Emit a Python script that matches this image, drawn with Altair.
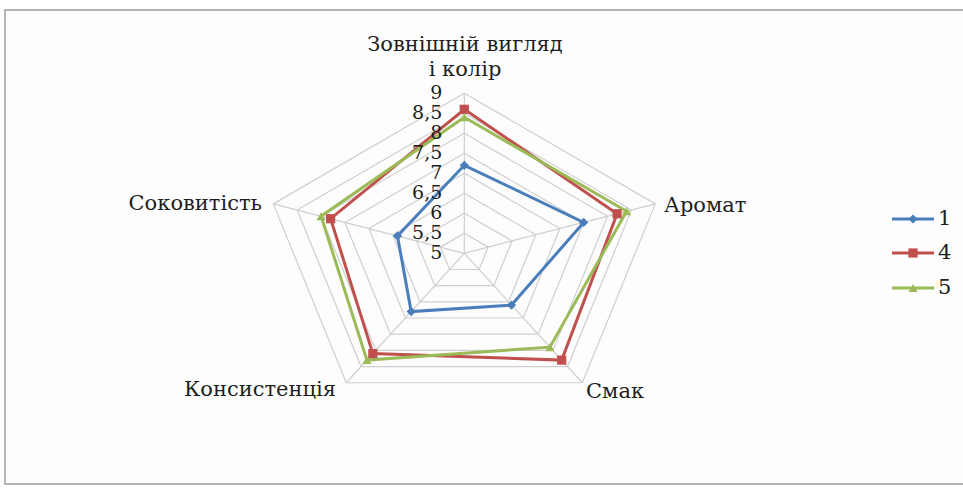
import math
import pandas as pd
import altair as alt

# Sensory scores (scale 5..9) for three samples
criteria = ["Зовнішній вигляд\nі колір", "Аромат", "Смак", "Консистенція", "Соковитість"]
series_names = ["1", "4", "5"]
scores_1 = [7.2, 7.5, 6.6, 6.8, 6.4]
scores_4 = [8.6, 8.2, 8.3, 8.1, 7.8]
scores_5 = [8.4, 8.4, 7.9, 8.3, 8.0]
grid_levels = [5.5, 6.0, 6.5, 7.0, 7.5, 8.0, 8.5, 9.0]
tick_values = [5.0, 5.5, 6.0, 6.5, 7.0, 7.5, 8.0, 8.5, 9.0]
tick_labels = ["5", "5,5", "6", "6,5", "7", "7,5", "8", "8,5", "9"]

colors = ["#4a7ebb", "#c0504d", "#9bbb59"]
shapes = ["diamond", "square", "triangle-up"]

R_MIN = 5.0
W, H = 963, 491
KX, KY = 50.2, 40.0          # pixels per score unit, horizontal / vertical
CX, CY = 464.3, 253.3        # centre of the radar in pixels
XMIN, XMAX = -CX / KX, (W - CX) / KX
YMAX, YMIN = CY / KY, (CY - H) / KY


def px_x(p):
    return XMIN + p / KX


def px_y(p):
    return YMAX - p / KY


n = len(criteria)
angles = [2 * math.pi * i / n for i in range(n)]


def polar(value, i):
    r = value - R_MIN
    return r * math.sin(angles[i]), r * math.cos(angles[i])


# grid pentagons
grid_rows = []
for lv in grid_levels:
    for k in range(n + 1):
        x, y = polar(lv, k % n)
        grid_rows.append({"level": lv, "order": k, "x": x, "y": y})
grid_df = pd.DataFrame(grid_rows)

# spokes
spoke_rows = []
for i in range(n):
    x2, y2 = polar(max(grid_levels), i)
    spoke_rows.append({"x": 0.0, "y": 0.0, "x2": x2, "y2": y2})
spoke_df = pd.DataFrame(spoke_rows)

# series polygons
series_rows = []
for name, vals in zip(series_names, [scores_1, scores_4, scores_5]):
    for k in range(n + 1):
        i = k % n
        x, y = polar(vals[i], i)
        series_rows.append({"series": name, "order": k, "crit": criteria[i],
                            "value": vals[i], "x": x, "y": y})
series_df = pd.DataFrame(series_rows)
points_df = series_df[series_df["order"] < n]

xs = alt.Scale(domain=[XMIN, XMAX], nice=False, zero=False)
ys = alt.Scale(domain=[YMIN, YMAX], nice=False, zero=False)
X = alt.X("x:Q", scale=xs, axis=None)
Y = alt.Y("y:Q", scale=ys, axis=None)
col = alt.Color("series:N", scale=alt.Scale(domain=series_names, range=colors), legend=None)
shp = alt.Shape("series:N", scale=alt.Scale(domain=series_names, range=shapes), legend=None)

FONT = "DejaVu Serif"
FS = 21
TXT = "#1e1e1e"

frame = alt.Chart(pd.DataFrame({"a": [0]})).mark_rect(
    fill="#fdfdfd", stroke="#9c9c9c", strokeWidth=1.5
).encode(x=alt.value(5), x2=alt.value(975), y=alt.value(10), y2=alt.value(484))

grid = alt.Chart(grid_df).mark_line(color="#cfcfcf", strokeWidth=1.2).encode(
    x=X, y=Y, detail="level:N", order="order:Q"
)
spokes = alt.Chart(spoke_df).mark_rule(color="#cfcfcf", strokeWidth=1.2).encode(
    x=X, y=Y, x2="x2:Q", y2="y2:Q"
)

lines = alt.Chart(series_df).mark_line(strokeWidth=3).encode(
    x=X, y=Y, color=col, detail="series:N", order="order:Q"
)
points = alt.Chart(points_df).mark_point(filled=True, opacity=1, size=85).encode(
    x=X, y=Y, color=col, shape=shp
)

# value labels along the vertical spoke
tick_df = pd.DataFrame({"x": [px_x(CX - 22)] * len(tick_values),
                        "y": [v - R_MIN for v in tick_values],
                        "t": tick_labels})
ticks = alt.Chart(tick_df).mark_text(
    font=FONT, fontSize=19, color=TXT, align="right", baseline="middle"
).encode(x=X, y=Y, text="t:N")

# category labels around the radar
cat_df = pd.DataFrame({
    "t": criteria,
    "x": [px_x(465), px_x(664), px_x(586), px_x(336), px_x(262)],
    "y": [px_y(45), px_y(206), px_y(392), px_y(390), px_y(204)],
    "al": ["center", "left", "left", "right", "right"],
})
cat_top = alt.Chart(cat_df.iloc[[0]]).mark_text(
    font=FONT, fontSize=FS, color=TXT, align="center", baseline="middle", lineBreak="\n",
    lineHeight=25
).encode(x=X, y=Y, text="t:N")
cat_left = alt.Chart(cat_df[cat_df["al"] == "left"]).mark_text(
    font=FONT, fontSize=FS, color=TXT, align="left", baseline="middle"
).encode(x=X, y=Y, text="t:N")
cat_right = alt.Chart(cat_df[cat_df["al"] == "right"]).mark_text(
    font=FONT, fontSize=FS, color=TXT, align="right", baseline="middle"
).encode(x=X, y=Y, text="t:N")

# legend: line + marker + label for each series
leg_y = [px_y(219), px_y(253), px_y(288)]
leg_df = pd.DataFrame({
    "series": series_names,
    "x": [px_x(892)] * 3,
    "x2": [px_x(934)] * 3,
    "xm": [px_x(913)] * 3,
    "xt": [px_x(938)] * 3,
    "y": leg_y,
})
leg_lines = alt.Chart(leg_df).mark_rule(strokeWidth=3).encode(
    x=X, x2="x2:Q", y=Y, color=col
)
leg_points = alt.Chart(leg_df).mark_point(filled=True, opacity=1, size=85).encode(
    x=alt.X("xm:Q", scale=xs, axis=None), y=Y, color=col, shape=shp
)
leg_text = alt.Chart(leg_df).mark_text(
    font=FONT, fontSize=FS, color=TXT, align="left", baseline="middle"
).encode(x=alt.X("xt:Q", scale=xs, axis=None), y=Y, text="series:N")

chart = alt.layer(
    frame, grid, spokes, lines, points, ticks, cat_top, cat_left, cat_right,
    leg_lines, leg_points, leg_text
).properties(
    width=W, height=H, padding=0, autosize=alt.AutoSizeParams(type="none"),
    background="#ffffff"
).configure_view(stroke=None)

chart.save("out.html", embed_options={"renderer": "svg", "actions": False})
